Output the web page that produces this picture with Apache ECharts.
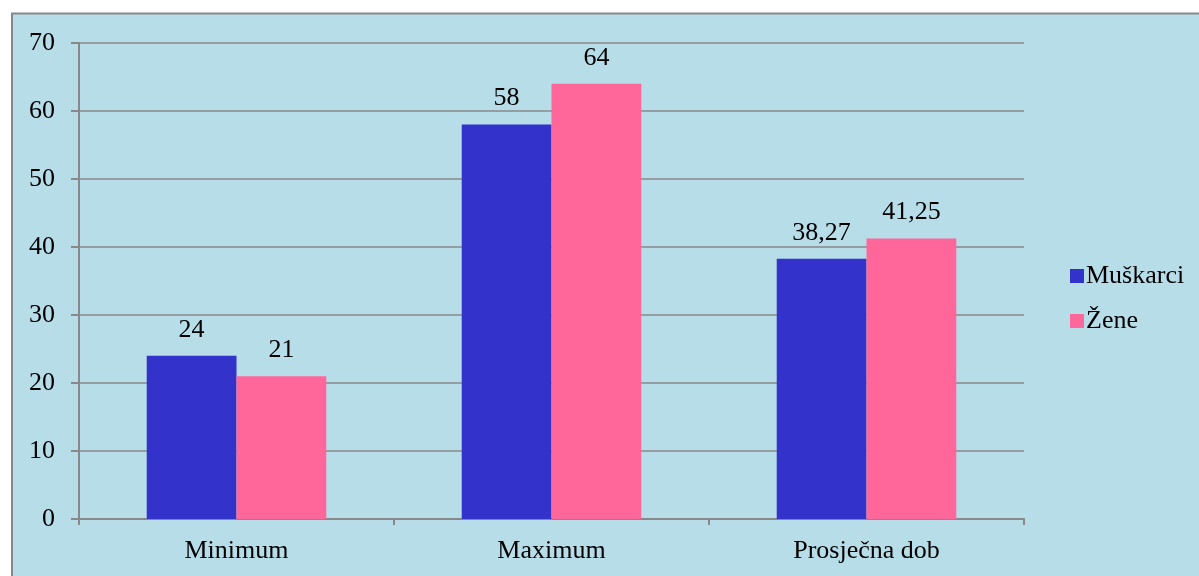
<!DOCTYPE html>
<html><head><meta charset="utf-8">
<script src="https://cdn.jsdelivr.net/npm/echarts@6/dist/echarts.min.js"></script>
<style>html,body{margin:0;padding:0;background:#fff}#c{width:1199px;height:576px}</style>
</head><body><div id="c"></div>
<script>
const categories = ['Minimum', 'Maximum', 'Prosječna dob'];
const muskarci = [24, 58, 38.27];
const zene = [21, 64, 41.25];
const seriesNames = ['Muškarci', 'Žene'];
const yTicks = [0, 10, 20, 30, 40, 50, 60, 70];

const chart = echarts.init(document.getElementById('c'));
const font = '"Liberation Serif", "Times New Roman", serif';
const fmt = p => String(p.value).replace('.', ',');
chart.setOption({
  animation: false,
  backgroundColor: '#fff',
  textStyle: { fontFamily: font },
  graphic: [{
    type: 'rect', z: -10, silent: true,
    shape: { x: 12, y: 13.5, width: 1200, height: 600 },
    style: { fill: '#b7dde8', stroke: '#888', lineWidth: 2 }
  }],
  grid: { left: 79, right: 175, top: 43, bottom: 57 },
  legend: {
    orient: 'vertical', left: 1065, top: 258, itemGap: 19,
    itemWidth: 14, itemHeight: 14, icon: 'rect',
    textStyle: { fontFamily: font, fontSize: 26, color: '#000', padding: [0, 0, 0, -3] },
    data: seriesNames
  },
  xAxis: {
    type: 'category', data: categories,
    axisLine: { lineStyle: { color: '#888', width: 2 } },
    axisTick: { show: true, length: 6, lineStyle: { color: '#888', width: 2 } },
    axisLabel: { fontFamily: font, fontSize: 26, color: '#000', margin: 19 }
  },
  yAxis: {
    type: 'value', min: 0, max: 70, interval: 10,
    axisLine: { show: true, lineStyle: { color: '#888', width: 2 } },
    axisTick: { show: true, length: 8, lineStyle: { color: '#888', width: 2 } },
    splitLine: { lineStyle: { color: '#888', width: 1.5 } },
    axisLabel: { fontFamily: font, fontSize: 26, color: '#000', margin: 24,
      formatter: v => yTicks.includes(v) ? String(v) : '' }
  },
  series: [
    { name: seriesNames[0], type: 'bar', data: muskarci, barGap: '0%', barCategoryGap: '43%',
      itemStyle: { color: '#3333cc' },
      label: { show: true, position: 'top', distance: 13, fontFamily: font, fontSize: 26, color: '#000', formatter: fmt } },
    { name: seriesNames[1], type: 'bar', data: zene, barGap: '0%', barCategoryGap: '43%',
      itemStyle: { color: '#ff6699' },
      label: { show: true, position: 'top', distance: 13, fontFamily: font, fontSize: 26, color: '#000', formatter: fmt } }
  ]
});
</script></body></html>
